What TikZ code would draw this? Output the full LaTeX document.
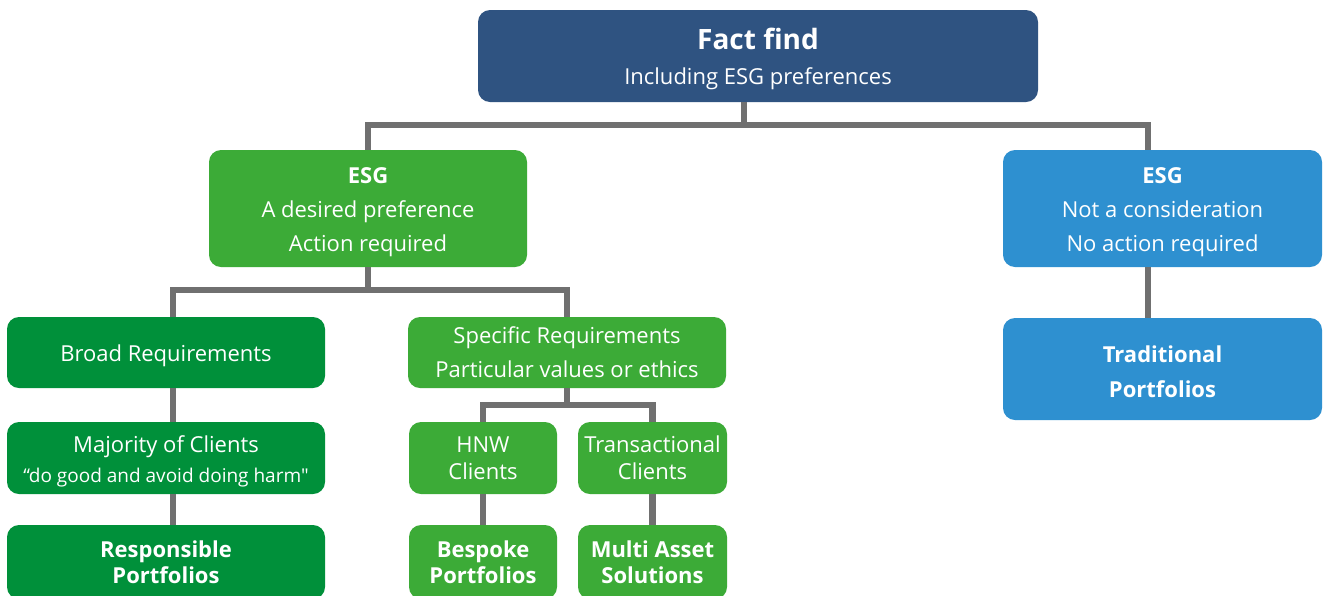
\documentclass[tikz,border=0pt]{standalone}
\usepackage{fontspec}
\setmainfont{Open Sans}
\newfontfamily\qfont{Open Sans}
\definecolor{navy}{HTML}{2F5381}
\definecolor{lgreen}{HTML}{3CAB37}
\definecolor{dgreen}{HTML}{00903A}
\definecolor{sky}{HTML}{2E90D0}
\definecolor{conn}{HTML}{707070}
\begin{document}
\begin{tikzpicture}[x=1pt,y=-1pt,
  box/.style={rounded corners=12pt, inner sep=0pt, align=center, text=white,
    font=\fontsize{22}{34}\selectfont},
  link/.style={draw=conn, line width=6.5pt}]
\clip (0,0) rectangle (1324,595);
\fill[white] (0,0) rectangle (1324,595);
% nodes
\node[box, fill=navy, minimum width=560pt, minimum height=92pt] (fact) at (758,56)
  {\rule{0pt}{28pt}{\fontsize{28}{36}\selectfont\bfseries Fact find}\\[1pt]Including ESG preferences};
\node[box, fill=lgreen, minimum width=318pt, minimum height=117pt] (esgG) at (368,208.5)
  {\rule{0pt}{24pt}\bfseries ESG\\A desired preference\\Action required};
\node[box, fill=sky, minimum width=319pt, minimum height=117pt] (esgB) at (1162.5,208.5)
  {\rule{0pt}{24pt}\bfseries ESG\\Not a consideration\\No action required};
\node[box, fill=sky, minimum width=319pt, minimum height=102pt, font=\fontsize{22}{35}\selectfont\bfseries] (trad) at (1162.5,369)
  {\rule{0pt}{22pt}Traditional\\Portfolios};
\node[box, fill=dgreen, minimum width=318pt, minimum height=71pt] (broad) at (166,352.5)
  {\rule{0pt}{24pt}Broad Requirements};
\node[box, fill=lgreen, minimum width=318pt, minimum height=71pt] (spec) at (567,352.5)
  {Specific Requirements\\Particular values or ethics};
\node[box, fill=dgreen, minimum width=318pt, minimum height=72pt] (maj) at (166,458)
  {\rule{0pt}{24pt}Majority of Clients\\[-4pt]{\qfont\fontsize{19}{22}\selectfont “do good and avoid doing harm"}};
\node[box, fill=lgreen, minimum width=148pt, minimum height=72pt, font=\fontsize{22}{27}\selectfont] (hnw) at (483,458)
  {HNW\\Clients};
\node[box, fill=lgreen, minimum width=149pt, minimum height=72pt, font=\fontsize{22}{27}\selectfont] (trans) at (652.5,458)
  {Transactional\\Clients};
\node[box, fill=dgreen, minimum width=318pt, minimum height=74pt, font=\fontsize{22}{26}\selectfont\bfseries] (resp) at (166,562)
  {Responsible\\Portfolios};
\node[box, fill=lgreen, minimum width=148pt, minimum height=74pt, font=\fontsize{22}{26}\selectfont\bfseries] (besp) at (483,562)
  {Bespoke\\Portfolios};
\node[box, fill=lgreen, minimum width=149pt, minimum height=74pt, font=\fontsize{22}{26}\selectfont\bfseries] (multi) at (652.5,562)
  {Multi Asset\\Solutions};
% junction coordinates
\coordinate (j1) at (744,125);
\coordinate (jb) at (1148,125);
\coordinate (j2) at (368,290);
\coordinate (jbr) at (173,290);
\coordinate (j3) at (567,405);
% connectors
\draw[link] (fact.south -| j1) -- (j1);
\draw[link] (esgG.north) |- (jb) -- (jb |- esgB.north);
\draw[link] (esgB.south -| jb) -- (trad.north -| jb);
\draw[link] (esgG.south) -- (j2);
\draw[link] (broad.north -| jbr) |- (j2) -| (spec.north);
\draw[link] (broad.south -| jbr) -- (maj.north -| jbr);
\draw[link] (maj.south -| jbr) -- (resp.north -| jbr);
\draw[link] (spec.south) -- (j3);
\draw[link] (hnw.north) |- (j3) -| (trans.north);
\draw[link] (hnw.south) -- (besp.north);
\draw[link] (trans.south) -- (multi.north);
\end{tikzpicture}
\end{document}
